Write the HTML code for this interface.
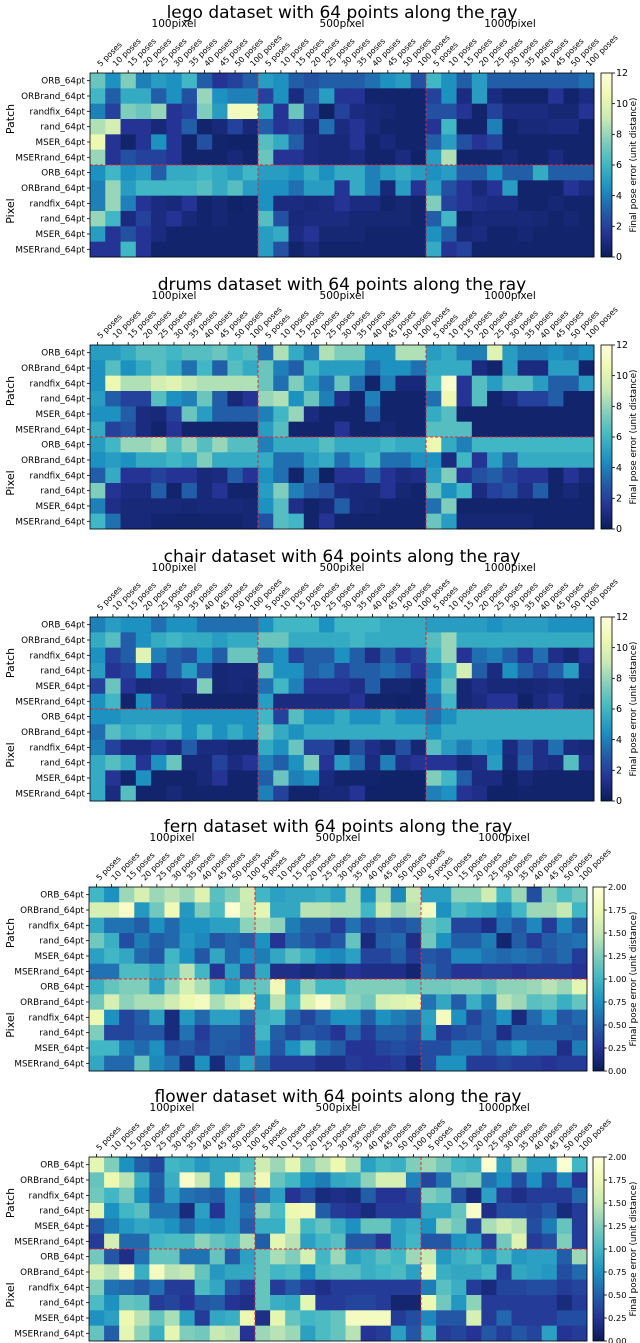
<!DOCTYPE html>
<html><head><meta charset="utf-8">
<style>
html,body{margin:0;padding:0;background:#fff;}
svg{display:block;font-family:"DejaVu Sans","Liberation Sans",sans-serif;}
</style></head>
<body>
<svg id="fig" width="640" height="1343" viewBox="0 0 640 1343" xmlns="http://www.w3.org/2000/svg"></svg>
<script>
const categories = ["5 poses","10 poses","15 poses","20 poses","25 poses","30 poses","35 poses","40 poses","45 poses","50 poses","100 poses"];
const groups = ["100pixel","500pixel","1000pixel"];
const rowLabels = ["ORB_64pt","ORBrand_64pt","randfix_64pt","rand_64pt","MSER_64pt","MSERrand_64pt","ORB_64pt","ORBrand_64pt","randfix_64pt","rand_64pt","MSER_64pt","MSERrand_64pt"];
const ticks12 = [0,2,4,6,8,10,12];
const ticks2 = [0,0.25,0.5,0.75,1.0,1.25,1.5,1.75,2.0];

const legoVals = [
[7,4.5,7.5,4,5,4.5,6,3,1.5,2,3, 5,4.5,3,2.5,3,3,3,3.5,4.5,5,2.5, 6,4.5,3,5,3,3,3,3,3,3,3.5],
[6,3,5.5,5.5,3,4.5,2.5,8,4.5,4,4, 2,4.5,1,3,5,1.5,1.5,0.5,0.5,0.5,0.5, 2,4.5,1,5,1,0.5,0.5,0.5,1.5,0.5,1],
[4,2,7.5,7,8,1.5,2,7.5,5,11,11, 5.5,1.5,7,2,0.3,2,1,0.8,0.7,0.5,0.5, 2.5,2.5,1.5,0.5,2,1,1,1,0.7,0.7,1.5],
[8.5,9.5,1.5,1.5,0.8,1.5,3,0.5,0.8,2,0.8, 3,1.5,2,0.8,3.5,1,1.5,0.8,0.5,0.5,0.5, 1.5,6,0.5,0.5,4,0.5,0.8,0.8,1,1,0.5],
[10.5,1.5,0.5,1.5,4.5,1.5,0.5,2.5,0.5,0.4,0.4, 6.5,5.5,3,1,0.8,0.8,1.5,0.5,0.8,0.5,0.5, 3,5,2.5,1.5,2,0.5,0.5,0.5,0.5,0.5,0.5],
[8,1.5,2.5,2,2,1.5,0.5,0.5,0.5,0.8,0.5, 7,1.5,1.5,1,0.8,0.8,1,0.5,0.5,1,0.4, 5,8.5,0.5,0.5,0.5,0.8,0.5,0.5,1,0.5,0.5],
[4.5,6,4.5,5,3,5.5,5.5,6,5.5,5,6, 5,5,4.5,5.5,4.5,5.5,5.5,4,5,5.5,5, 4.5,5,3,3,4.5,3,3,5.5,3,3,3],
[4,8,5,6,6,6,6,6.5,5.5,6.5,5, 4.5,4.5,3.5,5,5,1.5,5.5,4,0.8,5,1.5, 5,2.5,1.5,0.8,1.5,5,0.5,0.5,0.5,1.5,1],
[4,8,4,1.5,1,0.8,1.5,0.5,0.7,0.4,0.5, 4.5,1,1,0.8,1,1.5,1,1,0.5,0.7,0.5, 7.5,2,1.5,1.2,1,1,0.5,0.5,0.7,0.5,0.5],
[8,6,1,2,1,1.5,0.8,0.5,0.7,0.5,0.5, 6.5,2.5,0.8,1,1,1,0.7,0.7,0.7,0.7,0.5, 3,6,0.5,0.8,0.8,0.8,0.8,0.7,0.5,0.7,0.5],
[5,1.5,2.5,1.5,1,0.5,0.5,0.5,0.5,0.5,0.5, 5,5.5,1,1.5,0.7,0.7,0.7,0.5,0.5,0.5,0.5, 4.5,3,0.8,1,0.5,0.5,0.7,0.5,0.5,0.5,0.5],
[1.5,1.5,6,1.5,0.5,0.5,0.5,0.5,0.5,0.5,0.5, 5,2.5,0.5,1,0.5,0.5,0.5,0.5,0.5,0.5,0.5, 5.5,1.5,2,0.5,0.5,0.5,0.5,0.5,0.5,0.5,0.5]
];
const drumsVals = [
[5,5,5.5,6.5,6.5,6,6.5,6.5,7,6,6.5, 3.5,8.5,5.5,4,8.5,7.5,7.5,4.5,4.5,8.5,8.5, 5,5.5,4,4,10,5,4,4,4.5,4,4.5],
[4.5,6.5,4.5,5.5,6.5,5.5,3.5,6,3,6.5,5.5, 7,4,3,6,5,5,5,3.5,4.5,4.5,3.5, 5.5,5.5,5.5,1,0.5,5,1,1,5,5,0.5],
[4.5,10.5,8.5,8.5,9.5,10,9,8.5,8.5,8.5,8.5, 7,3.5,7.5,5,3.5,7,3.5,0.5,4,0.8,0.8, 6,11.5,1.5,6.5,5,6.5,6.5,5,3,3,5],
[5,3,2,2,6.5,4.5,4,7,3,0.8,1.5, 8,8.5,4.5,7,4,1.2,0.5,4,0.5,0.5,0.5, 3.5,10.5,1.5,6.5,0.5,1,2,2,3,0.5,0.5],
[4.5,4.5,3,1,0.8,2,7,5,3,3,3, 4,6,8,1,0.5,0.5,0.5,3,0.5,0.5,0.5, 5.5,6.5,0.5,0.5,0.5,0.5,0.5,0.5,0.5,0.5,0.5],
[5.5,2,2.5,1,0.5,1.5,0.5,0.5,0.5,0.5,0.5, 5,6.5,0.5,0.5,0.5,1.5,0.5,0.5,0.7,0.5,0.5, 6.5,6.5,6.5,0.5,0.5,0.5,0.5,0.5,0.5,0.5,0.5],
[5,6,8,8,8.5,6.5,8,6.5,8,6.5,6.5, 4,5.5,5.5,5.5,6.5,5.5,5.5,5.5,6,5.5,5.5, 10.5,5.5,4,6,6,6,6,6,6,6,6],
[4.5,5,4.5,5.5,5.5,6,5.5,7.5,5.5,5.5,5.5, 5.5,3.5,3.5,5,5.5,3.5,5,6,3.5,3.5,4.5, 4.5,1,6,1.5,5,3,5.5,5.5,5.5,5.5,5.5],
[3,5.5,1.5,1.5,2,1.5,1.5,0.8,1,3,1.5, 4.5,3.5,0.5,3.5,0.3,1.5,1.5,3,1.5,1,1.2, 5,7.5,1.5,2.5,3,2,1.5,1.5,0.5,1.5,0.8],
[7.5,1.5,1,1,3,0.5,3,0.8,1.5,0.5,0.5, 5,7.5,4,3,2.5,1,0.8,0.8,1.5,0.7,0.5, 7,4.5,6,1,2,2.5,1.2,3,0.5,0.8,0.5],
[4,1.2,0.8,0.8,0.8,0.8,0.7,0.8,0.8,0.8,0.7, 4.5,6.5,1.2,0.5,0.8,3,0.8,0.7,0.5,0.5,0.5, 3.5,7.5,0.5,0.5,0.5,0.5,0.5,0.5,0.5,0.5,0.5],
[6,3.5,0.8,0.8,0.5,0.5,0.5,0.5,0.5,0.5,0.7, 2.5,6.5,6,0.5,1.5,0.5,0.5,0.5,0.5,0.5,0.5, 7,5,0.7,0.7,0.7,0.7,0.7,0.5,0.5,0.5,0.5]
];
const chairVals = [
[4,5,4.5,4.5,3.5,4.5,4.5,3.5,3.5,3.5,3.5, 4.5,6,6,6,4.5,6,6,6,5.5,5.5,5.5, 5,5,5,5,4.5,5,5,5,4.5,4.5,4.5],
[5.5,6.5,3,4.5,5.5,6,5.5,5.5,5,5.5,5.5, 7,7,5.5,5.5,5.5,5.5,6,5.5,5.5,5.5,5.5, 6.5,8,5.5,5.5,5.5,5.5,5.5,5.5,5.5,5.5,5.5],
[4.5,2,3,10,4,3,2.5,4.5,3,7,7, 3.5,4.5,2,3,3,4.5,3,1.2,3,1.5,2, 6,8,1.5,3.5,4,3,1.5,3.5,1.2,0.7,1.5],
[5,1.5,2,4.5,1.5,3,5,2.5,0.7,0.8,0.8, 7,4.5,4.5,3,3.5,2,3,3,3.5,3,1.5, 4,6,9.5,3,1,4.5,3,2,3,5,1],
[2,7,1.5,0.8,1,1,1.2,7.5,0.7,0.8,0.7, 3.5,6,4,1.5,1.5,1.5,1.2,3,0.7,0.7,0.5, 4.5,7,0.7,1.2,0.8,0.8,0.7,0.8,1,0.7,0.7],
[4.5,6,0.5,4.5,1.5,1,0.5,0.5,0.5,0.5,0.5, 5,1,1,1,1,1,1.5,0.5,0.5,0.4,0.5, 3.5,6,0.7,1,1.5,1.5,0.4,1,1.5,0.7,0.5],
[4.5,4.5,5,5,5,5,4.5,4.5,4.5,4.5,4.5, 6,2,6.5,4.5,4.5,5.5,4.5,4.5,5.5,4.5,4.5, 3.5,4.5,5.5,5.5,5.5,5.5,5.5,5.5,5.5,5.5,5.5],
[3.5,6.5,5.5,6,5.5,6,4.5,6,4.5,5.5,4.5, 7,5.5,4.5,5.5,5.5,5.5,5.5,5.5,5.5,5.5,5.5, 4.5,5.5,5.5,5.5,5.5,5.5,5.5,5.5,5.5,5.5,5.5],
[4,2,1,1,1.5,1,3,1,1,0.7,0.7, 5.5,4.5,7,2,2,0.5,2.5,1.2,0.7,2.5,0.7, 6.5,5,4,5,4.5,1,2.5,1.2,3.5,1,0.8],
[5.5,6.5,5.5,1.5,4.5,7,0.8,0.8,2,1,1.5, 4,3,4.5,7.5,1.5,5,3.5,1,4,1.2,1.5, 1.5,1.5,0.8,1.2,5,0.8,3,1.2,1,6.5,1.2],
[5.5,1.5,0.5,4.5,0.5,0.5,0.5,0.8,1.5,0.5,0.5, 3,7,4,4.5,1,0.5,0.5,0.5,0.4,0.4,0.4, 7.5,6,3,1,1,0.4,0.8,0.5,0.5,0.5,0.5],
[5.5,1,6.5,0.5,0.5,0.8,0.5,0.5,0.5,0.5,0.5, 4,2,0.5,0.5,0.8,0.8,1.5,0.4,0.4,0.4,0.4, 4,4.5,1.5,1.2,0.4,0.4,0.5,0.5,0.5,0.5,0.5]
];
const fernVals = [
[1.0,0.75,1.35,1.6,1.35,1.45,1.35,1.65,1.1,1.25,1.55, 1.0,0.85,0.9,0.9,0.95,0.85,1.4,0.75,1.4,0.7,1.5, 0.85,0.85,1.3,1.3,1.55,1.0,1.35,0.4,1.3,1.05,1.2],
[1.6,1.6,1.9,0.8,1.2,1.8,0.8,1.25,1.05,1.95,1.5, 1.7,0.9,0.9,1.45,1.45,1.4,1.4,1.0,1.55,1.35,1.45, 1.85,0.75,1.05,0.95,0.9,0.7,1.0,1.35,1.35,1.5,1.0],
[0.9,0.6,0.6,0.5,0.75,0.55,0.75,0.75,0.85,0.85,1.3, 1.4,1.3,0.65,0.5,0.5,0.3,0.6,0.35,0.45,0.4,0.5, 1.15,1.05,0.35,0.35,0.2,0.6,0.45,0.7,0.3,0.7,0.45],
[1.2,0.95,0.4,0.65,0.5,0.55,0.8,0.7,0.45,0.55,0.5, 0.75,0.25,0.55,0.45,0.35,0.45,1.15,0.15,0.5,0.55,0.2, 1.2,0.75,0.5,0.5,0.65,0.1,0.5,0.3,0.5,0.55,0.6],
[0.85,1.0,0.9,0.55,0.45,1.0,0.75,0.45,0.9,0.55,0.75, 0.65,0.9,1.1,0.95,0.75,0.7,0.85,0.35,0.35,0.5,0.3, 0.45,0.4,0.7,0.7,0.6,0.55,0.6,0.55,0.45,0.55,0.3],
[0.6,0.6,1.05,1.05,0.9,1.05,1.45,1.0,0.25,0.85,0.4, 0.9,0.2,0.2,0.15,0.2,0.15,0.25,0.2,0.2,0.2,0.1, 0.55,0.4,0.25,0.25,0.3,0.3,0.25,0.3,0.3,0.3,0.25],
[0.95,1.15,1.25,1.25,0.85,1.3,1.6,1.4,1.0,0.8,1.1, 1.15,1.8,0.85,1.3,1.0,1.0,1.25,1.25,1.25,1.25,1.15, 1.2,1.2,1.25,1.25,1.15,1.3,1.3,1.35,1.45,1.35,1.7],
[1.2,1.6,1.3,1.4,1.4,1.55,1.75,1.85,1.4,1.6,1.75, 0.85,1.45,1.0,1.65,1.9,1.5,1.3,1.2,1.6,1.65,1.7, 0.6,0.9,0.5,0.95,0.65,1.45,1.35,1.1,1.15,0.95,1.15],
[1.75,0.75,0.35,0.5,0.85,0.15,0.8,0.55,0.85,0.85,0.55, 0.95,1.0,0.55,0.35,0.55,0.75,0.75,0.5,0.75,0.65,0.55, 0.85,1.85,0.75,0.35,0.55,0.75,0.15,0.55,0.8,0.45,0.55],
[1.25,0.35,0.35,0.45,0.45,0.15,0.6,0.3,0.5,0.5,0.4, 1.0,0.5,0.35,0.45,0.4,0.25,0.55,0.3,0.5,0.5,0.4, 0.8,0.3,0.4,0.45,0.55,0.2,0.5,0.5,0.5,0.5,0.45],
[1.0,1.0,0.65,0.55,0.75,0.4,0.45,0.35,0.5,0.45,0.4, 0.8,0.45,0.75,1.05,0.6,0.5,0.25,0.25,0.35,0.4,0.35, 0.4,0.4,0.65,0.65,0.5,0.65,0.8,0.6,0.6,0.2,0.65],
[0.9,0.55,0.55,1.15,0.7,0.6,0.15,0.75,0.15,0.6,0.85, 0.55,0.3,0.3,0.3,0.2,0.2,0.3,0.25,0.25,0.3,0.15, 0.4,0.75,0.75,0.3,0.3,0.35,0.3,0.3,0.25,0.3,0.3]
];
const flowerVals = [
[1.7,1.25,0.75,0.5,0.35,1.0,0.95,0.8,0.9,0.9,1.05, 1.55,1.35,1.7,1.25,1.45,1.75,1.4,0.85,1.0,0.95,1.25, 1.35,1.2,1.0,0.95,1.95,0.85,1.35,0.85,0.85,1.95,1.0],
[1.15,1.75,1.45,0.95,0.5,0.95,1.9,1.5,0.9,1.75,1.25, 1.8,1.15,1.0,0.75,0.65,0.9,0.95,1.3,1.6,1.6,0.7, 0.35,0.6,1.2,1.25,0.6,0.75,0.4,0.75,0.35,0.7,0.25],
[1.2,1.0,1.2,0.75,0.45,0.85,0.6,0.55,0.5,0.8,0.5, 0.6,0.85,0.25,0.4,0.15,0.2,0.15,0.5,0.25,0.25,0.35, 1.25,1.15,0.4,0.15,0.85,0.3,0.2,0.3,0.3,0.3,0.55],
[1.7,0.75,1.0,1.1,0.6,0.6,0.15,0.85,0.25,0.8,0.6, 1.3,1.05,1.75,1.8,0.5,0.3,0.25,0.15,0.3,0.3,0.3, 0.9,0.9,1.15,1.9,0.2,0.4,0.4,0.35,0.45,0.15,0.3],
[0.45,0.65,0.8,0.9,0.85,0.75,0.55,0.75,0.7,0.8,0.5, 0.95,0.95,1.6,1.0,1.15,0.95,0.75,1.15,1.15,0.85,0.95, 0.75,1.35,1.2,0.35,1.4,1.55,1.45,0.4,0.65,1.15,0.3],
[0.3,1.6,0.55,0.55,1.0,1.05,1.05,1.3,1.15,1.05,1.4, 0.5,1.7,1.45,0.85,1.0,1.1,0.45,0.45,0.25,0.85,1.0, 0.45,0.45,0.75,0.85,0.3,1.2,1.65,0.3,0.4,1.25,0.3],
[1.2,0.45,0.2,0.6,1.15,1.15,0.6,0.6,1.15,0.45,0.85, 1.15,1.4,1.25,1.6,1.0,1.35,0.85,0.95,1.1,1.0,1.35, 1.5,0.8,0.95,1.05,0.8,1.05,0.8,0.85,0.85,0.5,1.35],
[1.6,1.45,1.85,0.95,1.85,1.45,1.5,1.15,0.8,0.9,0.9, 1.15,1.0,1.05,0.75,1.05,1.1,1.1,0.95,1.0,1.05,0.85, 1.8,0.95,0.9,0.9,1.0,0.3,0.9,0.85,0.8,0.4,0.55],
[1.25,0.6,0.55,0.45,0.6,0.3,0.3,1.05,0.9,0.45,0.3, 1.15,0.3,0.45,0.3,0.2,0.3,0.3,0.3,0.3,0.3,0.3, 0.65,1.1,0.95,0.3,0.15,0.35,0.35,0.4,0.4,0.3,0.35],
[1.05,0.75,1.15,1.1,0.3,0.35,0.25,0.45,0.5,0.25,0.2, 1.15,0.95,0.9,1.7,0.3,0.3,0.35,0.35,0.3,0.1,0.1, 1.75,1.2,0.8,1.3,0.3,0.3,0.3,0.3,0.3,0.15,0.3],
[0.75,0.85,1.75,1.45,1.15,1.4,0.85,0.3,0.9,0.95,1.75, 0.2,1.7,1.15,1.0,1.05,1.15,1.85,1.85,1.85,0.3,0.4, 0.7,0.45,0.45,1.6,0.3,0.55,0.3,0.3,0.3,0.4,0.4],
[1.15,0.5,1.7,1.3,0.95,1.7,1.25,1.2,1.5,1.45,0.25, 1.35,1.45,1.35,0.85,1.05,1.15,1.45,0.25,0.3,0.85,0.45, 1.0,0.3,0.35,0.25,0.45,0.3,0.45,0.35,0.85,0.25,0.3]
];

const charts = [
  {key:"lego", title:"lego dataset with 64 points along the ray", vals:legoVals, vmax:12, ticks:ticks12, fmt:v=>String(v), fs:9.5, x0:90, x1:594, y0:73, y1:257, cbx:601},
  {key:"drums", title:"drums dataset with 64 points along the ray", vals:drumsVals, vmax:12, ticks:ticks12, fmt:v=>String(v), fs:9.5, x0:90, x1:594, y0:345, y1:529, cbx:601},
  {key:"chair", title:"chair dataset with 64 points along the ray", vals:chairVals, vmax:12, ticks:ticks12, fmt:v=>String(v), fs:9.5, x0:90, x1:594, y0:617, y1:801, cbx:601},
  {key:"fern", title:"fern dataset with 64 points along the ray", vals:fernVals, vmax:2, ticks:ticks2, fmt:v=>v.toFixed(2), fs:8.3, x0:89, x1:587, y0:887, y1:1071, cbx:593},
  {key:"flower", title:"flower dataset with 64 points along the ray", vals:flowerVals, vmax:2, ticks:ticks2, fmt:v=>v.toFixed(2), fs:8.3, x0:89, x1:587, y0:1157, y1:1341, cbx:593}
];

const stops = ["#081d58","#253494","#225ea8","#1d91c0","#41b6c4","#7fcdbb","#c7e9b4","#edf8b1","#ffffd9"];
function hex(h){return [parseInt(h.substr(1,2),16),parseInt(h.substr(3,2),16),parseInt(h.substr(5,2),16)];}
function cmap(t){
  t=Math.max(0,Math.min(1,t));
  const p=t*(stops.length-1), i=Math.min(stops.length-2,Math.floor(p)), f=p-i;
  const a=hex(stops[i]), b=hex(stops[i+1]);
  return "rgb("+a.map((v,k)=>Math.round(v+(b[k]-v)*f)).join(",")+")";
}
const NS="http://www.w3.org/2000/svg";
const svg=document.getElementById("fig");
function mk(tag,attrs,parent){const e=document.createElementNS(NS,tag);for(const k in attrs)e.setAttribute(k,attrs[k]);(parent||svg).appendChild(e);return e;}

const defs=mk("defs",{});
const grad=mk("linearGradient",{id:"cbgrad",x1:"0",y1:"1",x2:"0",y2:"0"},defs);
stops.forEach((s,i)=>mk("stop",{offset:(i/(stops.length-1)),"stop-color":s},grad));

charts.forEach(c=>{
  const g=mk("g",{});
  
  
  const nC=33, nR=12;
  const cw=(c.x1-c.x0)/nC, rh=(c.y1-c.y0)/nR;
  const xs=i=>c.x0+i*cw, ys=j=>c.y0+j*rh;
  const cx=(c.x0+c.x1)/2;
  const t=mk("text",{x:cx,y:c.y0-55,"text-anchor":"middle","font-size":"17"},g);
  t.textContent=c.title;
  
  
  groups.forEach((gn,gi)=>{
    const e=mk("text",{x:xs(gi*11+5.5),y:c.y0-46,"text-anchor":"middle","font-size":"10.5"},g);
    e.textContent=gn;
    
    
  });
  c.vals.forEach((row,j)=>row.forEach((v,i)=>{
    const r=mk("rect",{x:xs(i),y:ys(j),width:cw+0.4,height:rh+0.4,fill:cmap(v/c.vmax)},g);
    
    
  }));
  [11,22].forEach(k=>mk("line",{x1:xs(k),y1:c.y0,x2:xs(k),y2:c.y1,stroke:"#f0202a","stroke-width":"1","stroke-dasharray":"3,2"},g));
  mk("line",{x1:c.x0,y1:ys(6),x2:c.x1,y2:ys(6),stroke:"#f0202a","stroke-width":"1","stroke-dasharray":"3,2"},g);
  mk("rect",{x:c.x0,y:c.y0,width:c.x1-c.x0,height:c.y1-c.y0,fill:"none",stroke:"#000","stroke-width":"0.8"},g);
  for(let i=0;i<nC;i++){
    const x=xs(i+0.5);
    mk("line",{x1:x,y1:c.y0,x2:x,y2:c.y0-3,stroke:"#000","stroke-width":"0.8"},g);
    const lt=mk("text",{x:x+3,y:c.y0-6,"text-anchor":"start","font-size":"8",transform:"rotate(-45 "+(x+3)+" "+(c.y0-6)+")"},g);
    lt.textContent=categories[i%11];
    
    
  }
  for(let j=0;j<nR;j++){
    const y=ys(j+0.5);
    mk("line",{x1:c.x0,y1:y,x2:c.x0-3,y2:y,stroke:"#000","stroke-width":"0.8"},g);
    const yl=mk("text",{x:c.x0-5,y:y+3,"text-anchor":"end","font-size":"8.8"},g);
    yl.textContent=rowLabels[j];
    
    
  }
  [["Patch",3],["Pixel",9]].forEach(([lab,r])=>{
    const y=ys(r);
    const e=mk("text",{x:14,y:y,"text-anchor":"middle","font-size":"11",transform:"rotate(-90 14 "+y+")"},g);
    e.textContent=lab;
    
    
  });
  const cbw=11;
  const cb=mk("rect",{x:c.cbx,y:c.y0,width:cbw,height:c.y1-c.y0,fill:"url(#cbgrad)",stroke:"#000","stroke-width":"0.8"},g);
  
  
  c.ticks.forEach(tv=>{
    const y=c.y1-(tv/c.vmax)*(c.y1-c.y0);
    mk("line",{x1:c.cbx+cbw,y1:y,x2:c.cbx+cbw+3,y2:y,stroke:"#000","stroke-width":"0.8"},g);
    const e=mk("text",{x:c.cbx+cbw+4,y:y+3.2,"font-size":c.fs},g);
    e.textContent=c.fmt(tv);
    
    
  });
  const ly=(c.y0+c.y1)/2;
  const yt=mk("text",{x:636,y:ly,"text-anchor":"middle","font-size":"8.8",transform:"rotate(-90 636 "+ly+")"},g);
  yt.textContent="Final pose error (unit distance)";
  
  
});
</script>
</body></html>
